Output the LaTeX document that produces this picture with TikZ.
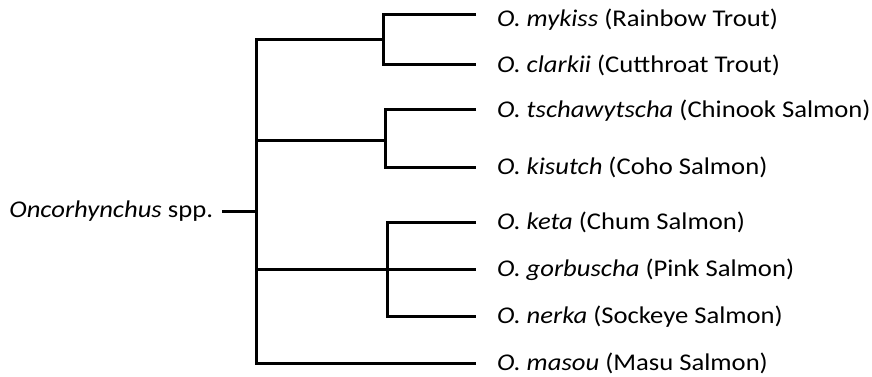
\documentclass[tikz,border=0pt]{standalone}
\usepackage{fontspec}
\setmainfont{Carlito}[FakeStretch=1.11]
\usepackage{tikz}
\usetikzlibrary{positioning}
\tikzstyle{taxon}=[anchor=west, inner xsep=21pt, inner ysep=0pt, outer sep=0pt, text height=15.5pt, text depth=0pt, font=\fontsize{24}{28}\selectfont]
\tikzstyle{branch}=[line width=3pt, line join=miter, black]

\begin{document}
\begin{tikzpicture}[x=1pt, y=-1pt]
        \useasboundingbox (0,0) rectangle (872,377);
        % inner nodes of the tree
        \coordinate (n0) at (256,211);
        \coordinate (c1) at (383,40);
        \coordinate (c2) at (385,140);
        \coordinate (c3) at (387,269);
        
        \node[taxon, anchor=east, inner xsep=9pt, text height=, text depth=] (root) at (222,211) {\textit{Oncorhynchus} spp.};
        
        \node[taxon, text height=24pt] (mykiss) at (476,15) {\textit{O. mykiss} (Rainbow Trout)};
        \node[taxon] (clarkii) at (476,65) {\textit{O. clarkii} (Cutthroat Trout)};
        \node[taxon] (tscha) at (476,110) {\textit{O. tschawytscha} (Chinook Salmon)};
        \node[taxon] (kisutch) at (476,167) {\textit{O. kisutch} (Coho Salmon)};
        \node[taxon] (keta) at (476,222) {\textit{O. keta} (Chum Salmon)};
        \node[taxon] (gorbuscha) at (476,269) {\textit{O. gorbuscha} (Pink Salmon)};
        \node[taxon] (nerka) at (476,316) {\textit{O. nerka} (Sockeye Salmon)};
        \node[taxon] (masou) at (476,363) {\textit{O. masou} (Masu Salmon)};
        
        \draw[branch] (root.east) -- (n0);
        \draw[branch] (c1) -| (n0) |- (masou.west);
        \draw[branch] (n0) |- (c2);
        \draw[branch] (n0) |- (c3);
        
        \draw[branch] (mykiss.west) -| (c1) |- (clarkii.west);
        \draw[branch] (tscha.west) -| (c2) |- (kisutch.west);
        \draw[branch] (keta.west) -| (c3) |- (nerka.west);
        \draw[branch] (c3) -- (gorbuscha.west);
    \end{tikzpicture}
\end{document}
